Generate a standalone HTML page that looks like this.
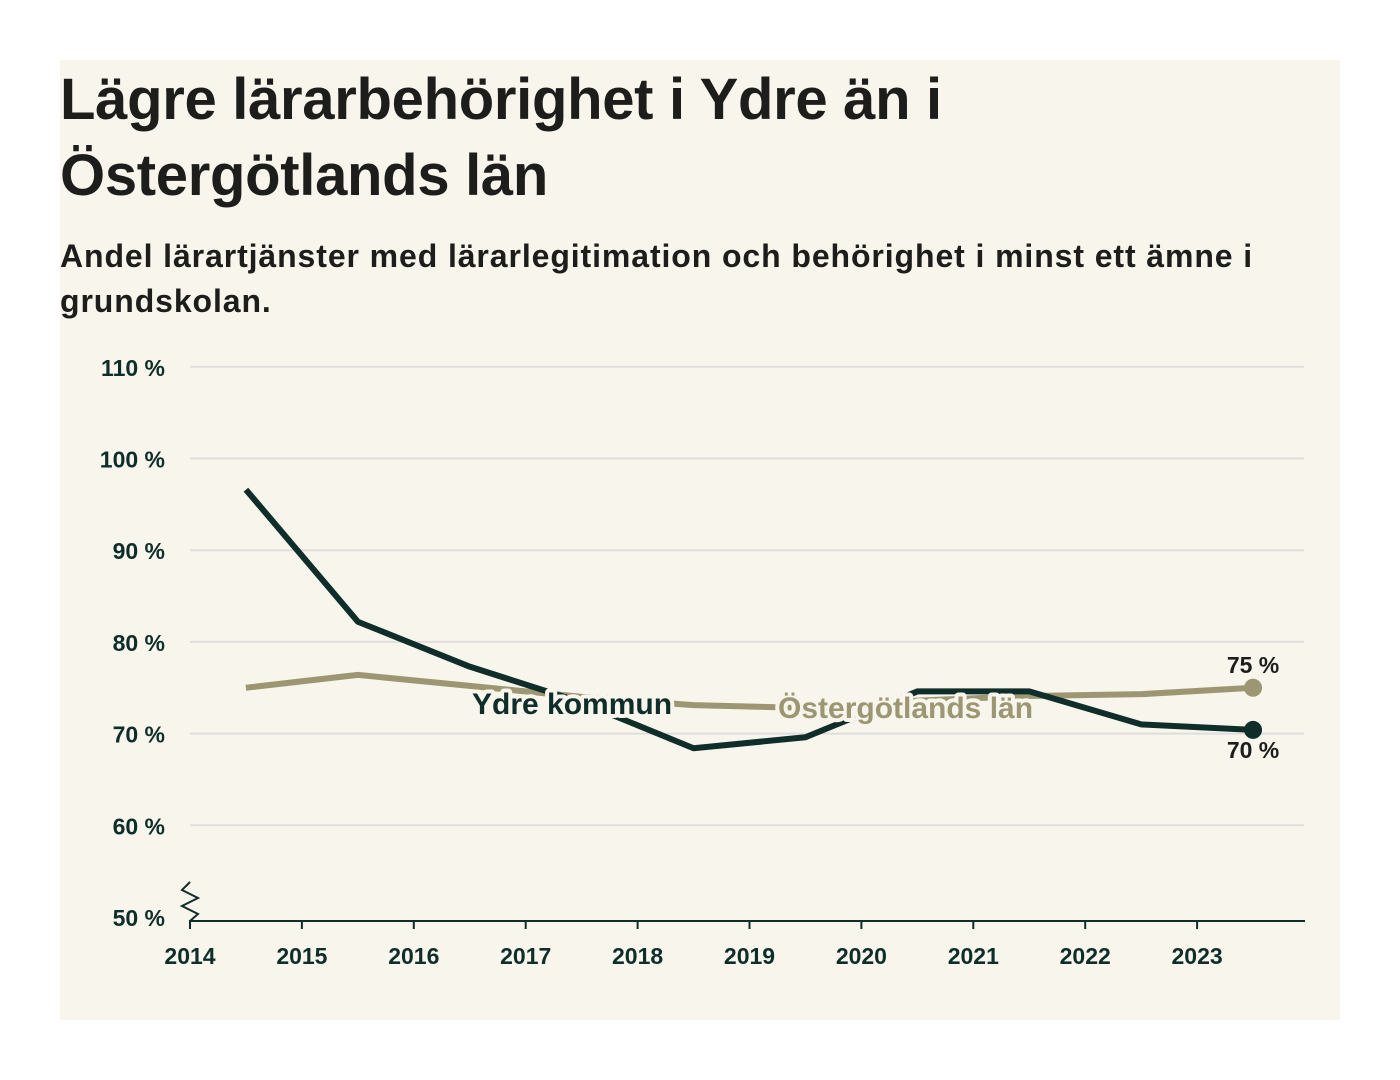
<!DOCTYPE html>
<html><head><meta charset="utf-8"><style>
body{margin:0;background:#fff;width:1400px;height:1080px;position:relative;font-family:"Liberation Sans",sans-serif}
#card{position:absolute;left:60px;top:60px;width:1280px;height:960px;background:#f7f5ec}
h1{position:absolute;left:0;top:2px;margin:0;font-size:58px;line-height:76px;font-weight:bold;color:#1d1d1b;letter-spacing:-0.3px}
p{position:absolute;left:0;top:174px;margin:0;font-size:32px;line-height:45px;font-weight:bold;color:#1d1d1b;width:1270px;white-space:nowrap;letter-spacing:0.9px}
svg{position:absolute;left:0;top:0}
</style></head><body>
<div id="card">
<h1>Lägre lärarbehörighet i Ydre än i<br>Östergötlands län</h1>
<p>Andel lärartjänster med lärarlegitimation och behörighet i minst ett ämne i<br>grundskolan.</p>
</div>
<svg id="chart" width="1400" height="1080"></svg>
<script>
const years=[2014.5,2015.5,2016.5,2017.5,2018.5,2019.5,2020.5,2021.5,2022.5,2023.5];
const ydre=[96.6,82.2,77.3,73.4,68.4,69.6,74.6,74.6,71.0,70.4];
const lan=[75.0,76.4,75.2,74.0,73.1,72.8,73.6,74.1,74.3,75.0];
const yTicks=[50,60,70,80,90,100,110];
const xTicks=[2014,2015,2016,2017,2018,2019,2020,2021,2022,2023];
const NS='http://www.w3.org/2000/svg';
const svg=document.getElementById('chart');
const X=v=>190+(v-2014)*111.9;
const Y=v=>917-(v-50)*9.17;
function mk(t,a,p){const e=document.createElementNS(NS,t);for(const k in a)e.setAttribute(k,a[k]);(p||svg).appendChild(e);return e;}
yTicks.forEach(t=>{
 if(t>50){const g=mk('line',{x1:190,x2:1304,y1:Y(t),y2:Y(t),stroke:'#e0dedb','stroke-width':2});
 
 }
 const l=mk('text',{x:165,y:Y(t)+9,'text-anchor':'end','font-size':23,'font-weight':'bold',fill:'#0f2e2a'});l.textContent=t+' %';
 
 
});
const ax=mk('line',{x1:189,x2:1305,y1:921,y2:921,stroke:'#0f2e2a','stroke-width':2});


mk('path',{d:'M190 882 L182 890 L198 898 L182 906 L198 914 L190 921',fill:'none',stroke:'#0f2e2a','stroke-width':2});
xTicks.forEach(t=>{
 mk('line',{x1:X(t),x2:X(t),y1:921,y2:929,stroke:'#0f2e2a','stroke-width':2});
 const l=mk('text',{x:X(t),y:964,'text-anchor':'middle','font-size':23,'font-weight':'bold',fill:'#0f2e2a'});l.textContent=t;
 
 
});
function line(vals,col,name){
 const p=mk('polyline',{points:years.map((y,i)=>X(y)+','+Y(vals[i])).join(' '),fill:'none',stroke:col,'stroke-width':6,'stroke-linejoin':'round'});
 
 
 const c=mk('circle',{cx:X(years[years.length-1]),cy:Y(vals[vals.length-1]),r:9,fill:col});
 
 
}
line(lan,'#9c9772','lan-line');
line(ydre,'#0f2e2a','ydre-line');
function lab(txt,x,y,col,name){
 const h=mk('text',{x:x,y:y,'font-size':30,'font-weight':'bold',fill:'#f7f5ec',stroke:'#f7f5ec','stroke-width':8,'stroke-linejoin':'round'});h.textContent=txt;
 const t=mk('text',{x:x,y:y,'font-size':30,'font-weight':'bold',fill:col});t.textContent=txt;
 
 
}
lab('Ydre kommun',472,714,'#0f2e2a','ydre-label');
lab('Östergötlands län',778,718,'#9c9772','lan-label');
const n=years.length-1;
const v1=mk('text',{x:X(years[n]),y:Y(lan[n])-15,'text-anchor':'middle','font-size':23,'font-weight':'bold',fill:'#1d1d1b'});v1.textContent=Math.round(lan[n])+' %';


const v2=mk('text',{x:X(years[n]),y:Y(ydre[n])+28,'text-anchor':'middle','font-size':23,'font-weight':'bold',fill:'#1d1d1b'});v2.textContent=Math.round(ydre[n])+' %';


</script>
</body></html>
